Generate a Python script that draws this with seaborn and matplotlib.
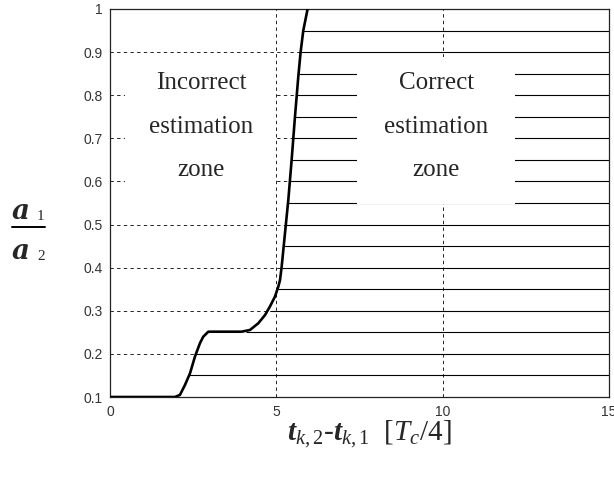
import numpy as np
import pandas as pd
import matplotlib
matplotlib.use("Agg")
import matplotlib.pyplot as plt
from matplotlib.patches import Rectangle
from matplotlib.lines import Line2D
import seaborn as sns

# ---- data ----
curve_x = [0.0, 1.954, 2.104, 2.254, 2.405, 2.555, 2.705, 2.804, 2.955, 3.959, 4.208,
           4.457, 4.659, 4.809, 4.959, 5.059, 5.11, 5.16, 5.26, 5.36, 5.46, 5.56,
           5.66, 5.73, 5.81, 5.94]
curve_y = [0.1, 0.1, 0.105, 0.128, 0.155, 0.194, 0.225, 0.240, 0.2515, 0.2515, 0.2555,
           0.271, 0.290, 0.310, 0.333, 0.356, 0.371, 0.402, 0.48, 0.557, 0.65, 0.75,
           0.843, 0.90, 0.95, 1.0]
hatch_levels = [0.15, 0.2, 0.25, 0.3, 0.35, 0.4, 0.45, 0.5, 0.55, 0.6, 0.65,
                0.7, 0.75, 0.8, 0.85, 0.9, 0.95]
hatch_start = [2.38, 2.57, 4.1, 4.81, 5.05, 5.16, 5.22, 5.29, 5.35, 5.40, 5.46,
               5.51, 5.56, 5.61, 5.67, 5.73, 5.81]
x_ticks = [0, 5, 10, 15]
y_ticks = [0.1, 0.2, 0.3, 0.4, 0.5, 0.6, 0.7, 0.8, 0.9, 1.0]
y_tick_labels = ['0.1', '0.2', '0.3', '0.4', '0.5', '0.6', '0.7', '0.8', '0.9', '1']
zone_left_text = "Incorrect\n\nestimation\n\nzone"
zone_right_text = "Correct\n\nestimation\n\nzone"

sns.set_style("white")
plt.rcParams['font.family'] = ['Liberation Sans', 'DejaVu Sans']
plt.rcParams['mathtext.fontset'] = 'custom'
plt.rcParams['mathtext.rm'] = 'Liberation Serif'
plt.rcParams['mathtext.it'] = 'Liberation Serif:italic'
plt.rcParams['mathtext.bf'] = 'Liberation Serif:italic:bold'

fig = plt.figure(figsize=(6.14, 4.86), dpi=100)
ax = fig.add_axes([110/614, 1-397/486, (609-110)/614, (397-9)/486])

df = pd.DataFrame({"x": curve_x, "y": curve_y})

# grid
ax.set_xlim(0, 15)
ax.set_ylim(0.1, 1.0)
ax.set_xticks(x_ticks)
ax.set_yticks(y_ticks)
ax.set_yticklabels(y_tick_labels)
ax.grid(True, color='k', linestyle=(0, (4, 4)), linewidth=0.6, zorder=0)
ax.set_axisbelow(True)

# hatch lines
ax.hlines(hatch_levels, hatch_start, 15, colors='k', linewidth=0.8, zorder=2)

# white boxes
ax.add_patch(Rectangle((0.45, 0.552), 4.53, 0.341, facecolor='white', edgecolor='none', zorder=3))
ax.add_patch(Rectangle((7.42, 0.548), 4.75, 0.341, facecolor='white', edgecolor='none', zorder=3))

ax.text(2.75, 0.727, zone_left_text, ha='center', va='center', fontsize=18,
        family='Liberation Serif', linespacing=0.98, zorder=4)
ax.text(9.81, 0.727, zone_right_text, ha='center', va='center', fontsize=18,
        family='Liberation Serif', linespacing=0.98, zorder=4)

sns.lineplot(data=df, x="x", y="y", ax=ax, color='k', linewidth=1.9, zorder=5,
             estimator=None, sort=False)
for ln in ax.lines:
    ln.set_solid_joinstyle('round')
    ln.set_solid_capstyle('round')

ax.set_xlabel("")
ax.set_ylabel("")
for s in ax.spines.values():
    s.set_color('#222222')
    s.set_linewidth(0.9)
ax.tick_params(direction='in', length=3, width=0.6, colors='#333333',
               labelsize=10, pad=5)
ax.tick_params(axis='x', pad=6)

# y label: fraction a1/a2
fig.text(12/614, 1-211/486, 'a', fontsize=20, family='DejaVu Serif', weight='bold',
         style='italic', ha='left', va='center')
fig.text(37/614, 1-216/486, '1', fontsize=11, family='Liberation Serif',
         ha='left', va='center')
fig.add_artist(Line2D([12/614, 45/614], [1-227/486, 1-227/486], color='k', linewidth=1.4))
fig.text(12/614, 1-251/486, 'a', fontsize=20, family='DejaVu Serif', weight='bold',
         style='italic', ha='left', va='center')
fig.text(37/614, 1-256/486, '2', fontsize=11, family='Liberation Serif',
         ha='left', va='center')

# x label
fig.text(369/614, 1-434/486, r'$\mathbf{t}_{\mathit{k,2}}$-$\mathbf{t}_{\mathit{k,1}}$  [$T_c$/4]',
         fontsize=21, ha='center', va='center', family='Liberation Serif')

fig.savefig("out.png", dpi=100)
